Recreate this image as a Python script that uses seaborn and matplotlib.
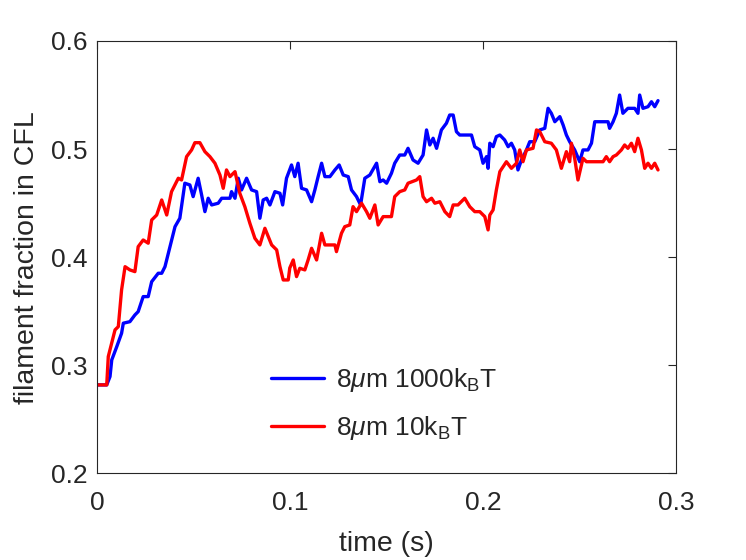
import seaborn as sns
import matplotlib.pyplot as plt
import pandas as pd
import numpy as np

# (time in s, filament fraction)
pts_blue = [
    (0.0, 0.2818), (0.0049, 0.2818), (0.0066, 0.2895), (0.0075, 0.3049), (0.0101, 0.3172),
    (0.0126, 0.3296), (0.0135, 0.3389), (0.0169, 0.3403), (0.0195, 0.3465), (0.0212, 0.3496),
    (0.0238, 0.3635), (0.0264, 0.3635), (0.0282, 0.3773), (0.0316, 0.3851), (0.0334, 0.3851),
    (0.0351, 0.3912), (0.0377, 0.4097), (0.0403, 0.4282), (0.0428, 0.4360), (0.0454, 0.4684),
    (0.048, 0.4668), (0.0497, 0.4560), (0.0523, 0.4730), (0.0541, 0.4575), (0.0558, 0.4421),
    (0.0575, 0.4545), (0.0593, 0.4483), (0.0627, 0.4499), (0.0645, 0.4545), (0.0688, 0.4545),
    (0.0696, 0.4606), (0.0714, 0.4545), (0.0731, 0.4730), (0.0748, 0.4622), (0.0774, 0.4730),
    (0.08, 0.4622), (0.0826, 0.4606), (0.0843, 0.4360), (0.086, 0.4529), (0.0878, 0.4545),
    (0.0895, 0.4483), (0.0921, 0.4606), (0.0947, 0.4591), (0.0961, 0.4483), (0.0981, 0.4730),
    (0.1007, 0.4853), (0.1024, 0.4745), (0.1041, 0.4869), (0.1059, 0.4637), (0.1085, 0.4622),
    (0.1111, 0.4513), (0.1128, 0.4622), (0.1145, 0.4745), (0.1163, 0.4869), (0.118, 0.4745),
    (0.1206, 0.4745), (0.1232, 0.4807), (0.1254, 0.4853), (0.1275, 0.4760), (0.1301, 0.4745),
    (0.1318, 0.4622), (0.1344, 0.4560), (0.1365, 0.4483), (0.1387, 0.4730), (0.1413, 0.4760),
    (0.1448, 0.4869), (0.1465, 0.4698), (0.1482, 0.4714), (0.15, 0.4684), (0.1525, 0.4776),
    (0.1542, 0.4869), (0.1568, 0.4945), (0.1594, 0.4945), (0.1611, 0.5007), (0.1637, 0.4899),
    (0.1663, 0.4869), (0.1689, 0.4945), (0.1707, 0.5177), (0.1724, 0.5038), (0.1741, 0.5100),
    (0.1759, 0.5007), (0.1784, 0.5177), (0.181, 0.5239), (0.1827, 0.5315), (0.1845, 0.5315),
    (0.1862, 0.5161), (0.1879, 0.5130), (0.194, 0.5130), (0.1957, 0.5022), (0.1983, 0.4992),
    (0.2, 0.4869), (0.2018, 0.4930), (0.2026, 0.4822), (0.2035, 0.5054), (0.2052, 0.5022),
    (0.2069, 0.5115), (0.2087, 0.5130), (0.2112, 0.5084), (0.213, 0.5022), (0.2147, 0.5054),
    (0.2164, 0.4992), (0.2181, 0.4807), (0.2199, 0.4899), (0.2225, 0.4992), (0.2242, 0.5068),
    (0.2268, 0.5068), (0.2294, 0.5177), (0.232, 0.5192), (0.2337, 0.5377), (0.2354, 0.5331),
    (0.2372, 0.5253), (0.2398, 0.5300), (0.2415, 0.5223), (0.2432, 0.5130), (0.2449, 0.5068),
    (0.2475, 0.4992), (0.2501, 0.4883), (0.2518, 0.4992), (0.2544, 0.4992), (0.2562, 0.5054),
    (0.2579, 0.5253), (0.2648, 0.5253), (0.2656, 0.5192), (0.2674, 0.5253), (0.2691, 0.5331),
    (0.2708, 0.5500), (0.2725, 0.5331), (0.2751, 0.5377), (0.2786, 0.5377), (0.2803, 0.5331),
    (0.2812, 0.5500), (0.2829, 0.5377), (0.2855, 0.5392), (0.2873, 0.5438), (0.289, 0.5392),
    (0.2907, 0.5448),
]

pts_red = [
    (0.0, 0.2818), (0.0049, 0.2818), (0.0057, 0.3080), (0.0092, 0.3327), (0.0109, 0.3357),
    (0.0126, 0.3697), (0.0144, 0.3912), (0.0169, 0.3882), (0.0195, 0.3866), (0.0212, 0.4097),
    (0.0238, 0.4159), (0.0264, 0.4129), (0.0282, 0.4344), (0.0308, 0.4390), (0.0334, 0.4529),
    (0.036, 0.4390), (0.0385, 0.4606), (0.042, 0.4730), (0.0437, 0.4714), (0.0463, 0.4930),
    (0.0489, 0.4992), (0.0506, 0.5059), (0.0532, 0.5059), (0.0558, 0.4976), (0.0584, 0.4930),
    (0.061, 0.4869), (0.0636, 0.4760), (0.0653, 0.4637), (0.067, 0.4807), (0.0688, 0.4745),
    (0.0714, 0.4791), (0.0739, 0.4591), (0.0765, 0.4467), (0.0791, 0.4314), (0.0817, 0.4175),
    (0.0843, 0.4113), (0.0869, 0.4267), (0.0904, 0.4113), (0.093, 0.4067), (0.0947, 0.3912),
    (0.0964, 0.3789), (0.099, 0.3789), (0.0998, 0.3900), (0.1016, 0.3974), (0.1033, 0.3820),
    (0.105, 0.3897), (0.1076, 0.3882), (0.1093, 0.3974), (0.1111, 0.4082), (0.1137, 0.3974),
    (0.1163, 0.4221), (0.118, 0.4113), (0.1232, 0.4113), (0.124, 0.4051), (0.1266, 0.4221),
    (0.1283, 0.4282), (0.1309, 0.4298), (0.1326, 0.4467), (0.1344, 0.4421), (0.137, 0.4499),
    (0.1396, 0.4421), (0.1413, 0.4360), (0.1439, 0.4483), (0.1456, 0.4298), (0.1482, 0.4375),
    (0.1525, 0.4375), (0.1542, 0.4560), (0.1568, 0.4606), (0.1594, 0.4622), (0.1611, 0.4684),
    (0.1655, 0.4714), (0.1672, 0.4745), (0.1689, 0.4560), (0.1707, 0.4513), (0.1733, 0.4545),
    (0.175, 0.4499), (0.1776, 0.4513), (0.1802, 0.4421), (0.1827, 0.4375), (0.1845, 0.4483),
    (0.187, 0.4483), (0.1905, 0.4545), (0.1931, 0.4467), (0.1957, 0.4421), (0.1983, 0.4421),
    (0.2009, 0.4375), (0.2026, 0.4252), (0.2035, 0.4390), (0.2052, 0.4437), (0.2069, 0.4622),
    (0.2087, 0.4791), (0.2121, 0.4883), (0.2147, 0.4822), (0.2173, 0.4869), (0.219, 0.4992),
    (0.2207, 0.4883), (0.2225, 0.4992), (0.2259, 0.5007), (0.2277, 0.5177), (0.2294, 0.5161),
    (0.232, 0.5068), (0.2354, 0.5054), (0.238, 0.4992), (0.2406, 0.4822), (0.2432, 0.4976),
    (0.2449, 0.4883), (0.2458, 0.5054), (0.2475, 0.4915), (0.2492, 0.4714), (0.2518, 0.4915),
    (0.2536, 0.4883), (0.2622, 0.4883), (0.2639, 0.4930), (0.2656, 0.4883), (0.2674, 0.4930),
    (0.2691, 0.4945), (0.2717, 0.4992), (0.2734, 0.5038), (0.2751, 0.5007), (0.2769, 0.5054),
    (0.2786, 0.4976), (0.2803, 0.5100), (0.2821, 0.4992), (0.2838, 0.4822), (0.2855, 0.4869),
    (0.2873, 0.4822), (0.289, 0.4869), (0.2907, 0.4807),
]

lab_blue = r'8$\mu$m 1000k$_\mathrm{B}$T'
lab_red = r'8$\mu$m 10k$_\mathrm{B}$T'

df_blue = pd.DataFrame(pts_blue, columns=['time', 'frac'])
df_blue['run'] = lab_blue
df_red = pd.DataFrame(pts_red, columns=['time', 'frac'])
df_red['run'] = lab_red
df = pd.concat([df_blue, df_red], ignore_index=True)

sns.set_theme(style="white")
plt.rcParams['font.family'] = ['Liberation Sans', 'DejaVu Sans']
plt.rcParams['mathtext.fontset'] = 'custom'
plt.rcParams['mathtext.rm'] = 'Liberation Sans'
plt.rcParams['mathtext.it'] = 'Liberation Sans:italic'

fig = plt.figure(figsize=(7.46, 5.6), dpi=100)
ax = fig.add_axes([0.1304, 0.1548, 0.7757, 0.772])

sns.lineplot(data=df, x='time', y='frac', hue='run', palette=['#0000ff', '#ff0000'],
             estimator=None, sort=False, linewidth=2.4, ax=ax)

ax.set_xlim(0, 0.3)
ax.set_ylim(0.2, 0.6)
ax.set_xticks([0, 0.1, 0.2, 0.3])
ax.set_xticklabels(['0', '0.1', '0.2', '0.3'])
ax.set_yticks([0.2, 0.3, 0.4, 0.5, 0.6])
ax.tick_params(direction='in', length=6, width=0.8, colors='#262626', labelsize=19,
               top=True, right=True)
ax.tick_params(axis='x', pad=13)
ax.tick_params(axis='y', pad=7)
for s in ax.spines.values():
    s.set_color('#262626')
    s.set_linewidth(0.8)

ax.set_xlabel('time (s)', fontsize=20.5, color='#262626', labelpad=11)
ax.set_ylabel('filament fraction in CFL', fontsize=20.5, color='#262626', labelpad=8)

ax.legend(loc='center', bbox_to_anchor=(0.495, 0.16), frameon=False, fontsize=19,
          handlelength=2.0, handletextpad=0.45, labelspacing=0.78)

plt.savefig('out.png', dpi=100)
plt.close()
